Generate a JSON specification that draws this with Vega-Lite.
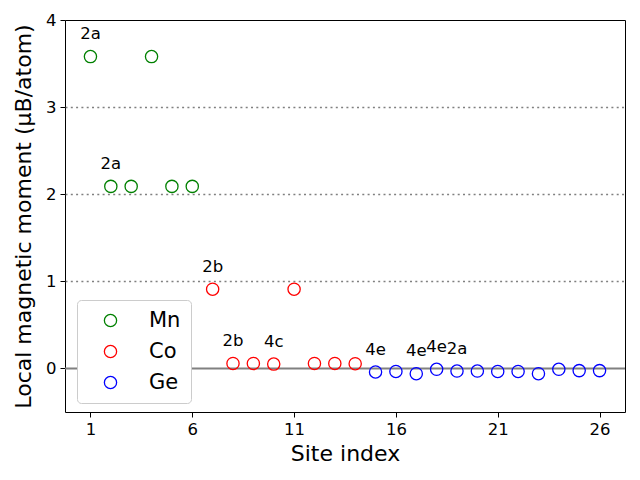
{
  "$schema": "https://vega.github.io/schema/vega-lite/v6.json",
  "width": 560,
  "height": 392,
  "autosize": {"type": "none"},
  "padding": {"left": 65, "top": 20, "right": 15, "bottom": 68},
  "background": "white",
  "config": {
    "font": "DejaVu Sans",
    "view": {"stroke": "black", "strokeWidth": 1},
    "axis": {
      "labelFont": "DejaVu Sans",
      "titleFont": "DejaVu Sans",
      "labelColor": "black",
      "titleColor": "black",
      "tickColor": "black",
      "labelFontSize": 16.5,
      "titleFontSize": 22,
      "titleFontWeight": "normal",
      "tickSize": 5,
      "labelPadding": 4,
      "domain": false
    }
  },
  "datasets": {
    "sites": [
      {"site": 1, "moment": 3.58, "element": "Mn", "label": "2a"},
      {"site": 2, "moment": 2.09, "element": "Mn", "label": "2a"},
      {"site": 3, "moment": 2.09, "element": "Mn", "label": ""},
      {"site": 4, "moment": 3.58, "element": "Mn", "label": ""},
      {"site": 5, "moment": 2.09, "element": "Mn", "label": ""},
      {"site": 6, "moment": 2.09, "element": "Mn", "label": ""},
      {"site": 7, "moment": 0.91, "element": "Co", "label": "2b"},
      {"site": 8, "moment": 0.057, "element": "Co", "label": "2b"},
      {"site": 9, "moment": 0.057, "element": "Co", "label": ""},
      {"site": 10, "moment": 0.05, "element": "Co", "label": "4c"},
      {"site": 11, "moment": 0.91, "element": "Co", "label": ""},
      {"site": 12, "moment": 0.057, "element": "Co", "label": ""},
      {"site": 13, "moment": 0.057, "element": "Co", "label": ""},
      {"site": 14, "moment": 0.054, "element": "Co", "label": ""},
      {"site": 15, "moment": -0.04, "element": "Ge", "label": "4e"},
      {"site": 16, "moment": -0.035, "element": "Ge", "label": ""},
      {"site": 17, "moment": -0.06, "element": "Ge", "label": "4e"},
      {"site": 18, "moment": -0.01, "element": "Ge", "label": "4e"},
      {"site": 19, "moment": -0.03, "element": "Ge", "label": "2a"},
      {"site": 20, "moment": -0.03, "element": "Ge", "label": ""},
      {"site": 21, "moment": -0.035, "element": "Ge", "label": ""},
      {"site": 22, "moment": -0.035, "element": "Ge", "label": ""},
      {"site": 23, "moment": -0.06, "element": "Ge", "label": ""},
      {"site": 24, "moment": -0.01, "element": "Ge", "label": ""},
      {"site": 25, "moment": -0.025, "element": "Ge", "label": ""},
      {"site": 26, "moment": -0.025, "element": "Ge", "label": ""}
    ],
    "zero": [{"y": 0}]
  },
  "layer": [
    {
      "data": {"name": "zero"},
      "mark": {"type": "rule", "color": "#808080", "strokeWidth": 2},
      "encoding": {
        "y": {"field": "y", "type": "quantitative", "scale": {"domain": [-0.5, 4]}}
      }
    },
    {
      "data": {"name": "sites"},
      "mark": {"type": "point", "shape": "circle", "filled": false, "size": 150, "strokeWidth": 1.3, "opacity": 1},
      "encoding": {
        "x": {
          "field": "site", "type": "quantitative",
          "scale": {"domain": [-0.25, 27.25], "nice": false, "zero": false},
          "axis": {"values": [1, 6, 11, 16, 21, 26], "grid": false, "title": "Site index", "titlePadding": 6}
        },
        "y": {
          "field": "moment", "type": "quantitative",
          "scale": {"domain": [-0.5, 4], "nice": false, "zero": false},
          "axis": {
            "values": [0, 1, 2, 3, 4], "format": "d", "grid": true,
            "gridColor": "#808080", "gridDash": [2, 3.3], "gridWidth": 1.5,
            "gridOpacity": {"condition": {"test": "datum.value >= 4 || datum.value <= 0", "value": 0}, "value": 1},
            "title": "Local magnetic moment (μB/atom)", "titlePadding": 10
          }
        },
        "color": {
          "field": "element", "type": "nominal",
          "scale": {"domain": ["Mn", "Co", "Ge"], "range": ["#008000", "#ff0000", "#0000ff"]},
          "legend": {
            "title": null,
            "orient": "none",
            "legendX": 12,
            "legendY": 280,
            "padding": 10,
            "strokeColor": "#cccccc",
            "fillColor": "white",
            "cornerRadius": 4,
            "symbolSize": 150,
            "symbolStrokeWidth": 1.3,
            "symbolOffset": 13,
            "labelFontSize": 21,
            "labelFont": "DejaVu Sans",
            "labelColor": "black",
            "labelOffset": 28,
            "rowPadding": 9,
            "symbolType": "circle"
          }
        }
      }
    },
    {
      "data": {"name": "sites"},
      "mark": {"type": "text", "fontSize": 16.5, "font": "DejaVu Sans", "color": "black", "baseline": "alphabetic", "align": "center", "yOffset": -17.4},
      "encoding": {
        "x": {"field": "site", "type": "quantitative"},
        "y": {"field": "moment", "type": "quantitative"},
        "text": {"field": "label"}
      }
    }
  ]
}
